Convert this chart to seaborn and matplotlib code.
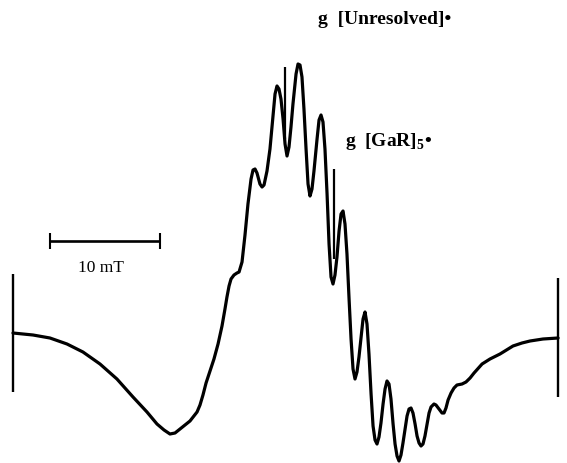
import matplotlib
matplotlib.use("Agg")
import matplotlib.pyplot as plt
import seaborn as sns
import pandas as pd

# EPR spectrum trace: magnetic field (mT, relative to sweep start) and first-derivative signal (a.u.)
field_mT = [
    0.00, 1.82, 3.36, 4.91, 6.36, 7.91, 9.45, 10.91, 12.18, 13.09, 13.73, 14.27,
    14.73, 15.18, 16.09, 16.73, 17.00, 17.27, 17.55, 17.91, 18.27, 18.64, 19.00,
    19.27, 19.45, 19.64, 19.82, 20.09, 20.36,
    20.55, 20.82, 21.09, 21.36, 21.64, 21.82, 22.00, 22.18, 22.45, 22.64, 22.82,
    23.09, 23.36, 23.64, 23.82, 24.00, 24.18, 24.36, 24.55, 24.73, 24.91, 25.09,
    25.27, 25.45, 25.73, 25.91, 26.09, 26.27, 26.45, 26.64, 26.82, 27.00, 27.18,
    27.36, 27.64, 27.82, 28.00, 28.18, 28.36, 28.55, 28.73, 28.91, 29.09, 29.27,
    29.45, 29.64, 29.82, 30.00, 30.18, 30.36, 30.55, 30.73, 30.91, 31.09, 31.27,
    31.45, 31.64, 31.82, 32.00, 32.18, 32.36, 32.55, 32.73, 32.91, 33.09, 33.27,
    33.45, 33.64, 33.82, 34.00, 34.18, 34.36, 34.55, 34.73, 34.91, 35.09, 35.27,
    35.45, 35.64, 35.82, 36.00, 36.18, 36.36, 36.55, 36.73, 36.91, 37.09, 37.27,
    37.45, 37.64, 37.82, 38.00, 38.27, 38.45, 38.73, 39.00, 39.18, 39.36, 39.55,
    39.82, 40.09, 40.36, 40.82, 41.18, 41.55, 41.91, 42.64, 43.36, 44.27, 45.45,
    46.27, 47.00, 48.18, 49.55,
]
signal = [
    0, -2, -5, -11, -19, -31, -46, -64, -79, -91, -97, -101,
    -100, -96, -88, -79, -72, -62, -50, -38, -26, -11, 7,
    24, 36, 47, 54, 58, 60,
    61, 71, 98, 129, 154, 163, 164, 160, 149, 146, 148,
    162, 184, 218, 239, 247, 244, 234, 214, 189, 177, 186,
    206, 229, 259, 269, 268, 256, 224, 184, 149, 137, 144,
    162, 194, 213, 218, 211, 184, 139, 89, 56, 49, 58,
    76, 102, 119, 122, 109, 79, 34, -6, -36, -46, -39,
    -24, -4, 14, 21, 9, -21, -61, -93, -107, -111, -104,
    -90, -71, -56, -48, -51, -66, -91, -111, -123, -128, -122,
    -110, -96, -83, -76, -75, -80, -91, -103, -110, -113, -111,
    -103, -91, -80, -74, -71, -72, -76, -80, -80, -75, -67,
    -60, -55, -52, -51, -49, -45, -40, -31, -26, -21, -13,
    -10, -8, -6, -5,
]

# g-value markers: field position, line bottom and top, label text and anchor
g_marks_field = [24.70, 29.18]
g_marks_low = [194, 74]
g_marks_high = [266, 164]
g_labels = ["g  [Unresolved]•", r"g  [GaR]$_{\mathbf{5}}$•"]
g_label_pos = [(27.73, 315), (30.18, 192)]

# sweep-edge markers and 10 mT scale bar
edge_field = [0.00, 49.55]
edge_low = [-59, -64]
edge_high = [59, 55]
scale_start, scale_len, scale_level = 3.36, 10.0, 92
scale_label = "10 mT"

sns.set_style("white")
plt.rcParams["font.family"] = ["Liberation Serif", "DejaVu Serif"]
plt.rcParams["mathtext.fontset"] = "custom"
plt.rcParams["mathtext.rm"] = "Liberation Serif"
plt.rcParams["mathtext.bf"] = "Liberation Serif:bold"

fig = plt.figure(figsize=(5.67, 4.64), dpi=100)
ax = fig.add_axes([0, 0, 1, 1])

df = pd.DataFrame({"field": field_mT, "signal": signal})
sns.lineplot(data=df, x="field", y="signal", ax=ax, color="black",
             linewidth=2.3, sort=False, estimator=None,
             solid_joinstyle="round", solid_capstyle="round")

for f, lo, hi in zip(g_marks_field, g_marks_low, g_marks_high):
    ax.vlines(f, lo, hi, color="black", linewidth=1.6)
for f, lo, hi in zip(edge_field, edge_low, edge_high):
    ax.vlines(f, lo, hi, color="black", linewidth=1.7)

for text, (x, y) in zip(g_labels, g_label_pos):
    ax.text(x, y, text, fontsize=14, fontweight="bold", color="black",
            ha="left", va="center")

ax.hlines(scale_level, scale_start, scale_start + scale_len, color="black", linewidth=1.9)
ax.vlines([scale_start, scale_start + scale_len], scale_level - 8, scale_level + 8,
          color="black", linewidth=1.5)
ax.text(scale_start + scale_len / 2 - 0.4, scale_level - 26, scale_label,
        fontsize=12.5, color="black", ha="center", va="center")

ax.set_xlim(-1.18, 50.36)
ax.set_ylim(-130, 334)
ax.set_axis_off()

fig.savefig("out.png", dpi=100)
